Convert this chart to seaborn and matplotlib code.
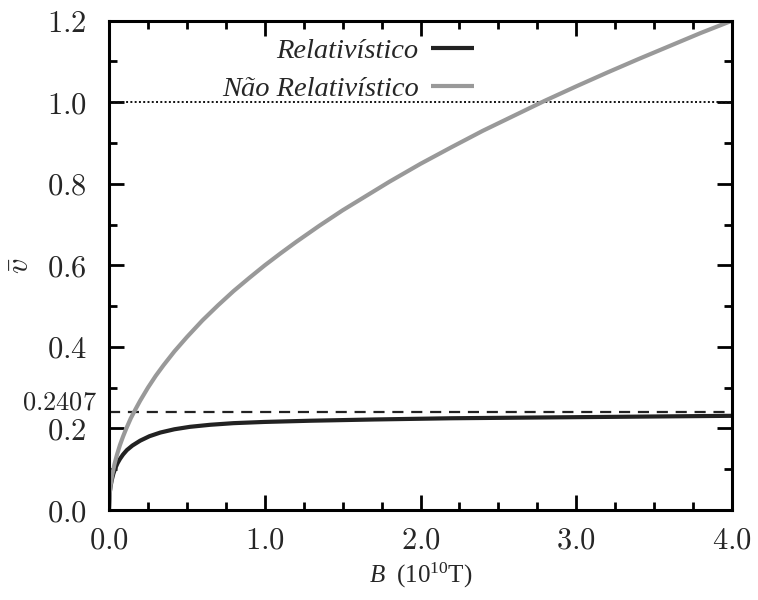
import numpy as np
import pandas as pd
import matplotlib
matplotlib.use("Agg")
import matplotlib.pyplot as plt
import matplotlib.transforms as mtransforms
from matplotlib.ticker import MultipleLocator
import seaborn as sns

# Mean velocity versus magnetic field (B in units of 1e10 T)
b_nonrel = [0.0, 0.005, 0.01, 0.02, 0.035, 0.05, 0.07, 0.09, 0.11, 0.14,
            0.17, 0.2, 0.25, 0.3, 0.35, 0.42, 0.5, 0.6, 0.7, 0.8, 0.9, 1.0,
            1.1, 1.2, 1.35, 1.5, 1.65, 1.8, 2.0, 2.2, 2.4, 2.6, 2.8, 3.0,
            3.2, 3.4, 3.6, 3.8, 4.0]
v_nonrel = [0.0, 0.042, 0.060, 0.085, 0.112, 0.134, 0.159, 0.180, 0.199,
            0.225, 0.247, 0.268, 0.300, 0.329, 0.355, 0.389, 0.424, 0.465,
            0.502, 0.537, 0.569, 0.600, 0.629, 0.657, 0.697, 0.735, 0.770,
            0.805, 0.849, 0.890, 0.930, 0.967, 1.004, 1.039, 1.073, 1.106,
            1.138, 1.170, 1.200]

b_rel = [0.0, 0.004, 0.01, 0.018, 0.028, 0.04, 0.055, 0.07, 0.09, 0.115,
         0.15, 0.2, 0.26, 0.33, 0.42, 0.52, 0.65, 0.8, 1.0, 1.3, 1.7, 2.2,
         2.8, 3.4, 4.0]
v_rel = [0.0, 0.040, 0.058, 0.074, 0.089, 0.102, 0.115, 0.125, 0.136,
         0.147, 0.158, 0.170, 0.181, 0.190, 0.198, 0.204, 0.209, 0.213,
         0.216, 0.219, 0.222, 0.225, 0.227, 0.229, 0.231]

v_limit = 0.2407      # relativistic asymptote
v_light = 1.0         # speed of light

series_names = ["Relativístico", "Não Relativístico"]
series_colors = ["#222222", "#999999"]
x_ticks = [0.0, 1.0, 2.0, 3.0, 4.0]
y_ticks = [0.0, 0.2, 0.4, 0.6, 0.8, 1.0, 1.2]

df = pd.concat([
    pd.DataFrame({"B": b_rel, "v": v_rel, "curve": series_names[0]}),
    pd.DataFrame({"B": b_nonrel, "v": v_nonrel, "curve": series_names[1]}),
], ignore_index=True)

sns.set_theme(style="ticks")
plt.rcParams.update({
    "font.family": ["Liberation Serif", "DejaVu Serif"],
    "mathtext.fontset": "custom",
    "mathtext.rm": "Liberation Serif",
    "mathtext.it": "Liberation Serif:italic",
    "axes.linewidth": 2.2,
    "lines.solid_capstyle": "butt",
    "lines.solid_joinstyle": "round",
})

fig = plt.figure(figsize=(7.58, 6.0), dpi=100)
ax = fig.add_axes([0.1438, 0.15, 0.8219, 0.8155])

sns.lineplot(data=df, x="B", y="v", hue="curve", hue_order=series_names,
             palette=series_colors, linewidth=3.0, ax=ax, sort=False,
             legend=True)

ax.axhline(v_light, color="#111111", lw=1.4, ls=(0, (1, 1.2)), zorder=1)
ax.axhline(v_limit, color="#222222", lw=1.6, ls=(0, (5, 3.5)), zorder=1)

ax.set_xlim(0, 4.0)
ax.set_ylim(0, 1.2)

ax.set_xticks(x_ticks, labels=[f"${t:.1f}$" for t in x_ticks],
              math_fontfamily="cm", fontsize=22)
ax.set_yticks(y_ticks, labels=[f"${t:.1f}$" for t in y_ticks],
              math_fontfamily="cm", fontsize=22)
ax.xaxis.set_minor_locator(MultipleLocator(0.25))
ax.yaxis.set_minor_locator(MultipleLocator(0.1))
ax.tick_params(which="both", direction="in", top=True, right=True,
               width=2.0, color="black")
ax.tick_params(axis="x", which="major", length=11, pad=12)
ax.tick_params(axis="y", which="major", length=11, pad=16)
ax.tick_params(which="minor", length=6)

# label for the asymptotic value on the left axis
trans = mtransforms.blended_transform_factory(ax.transAxes, ax.transData)
ax.text(-0.019, v_limit - 0.006, f"${v_limit}$", transform=trans,
        ha="right", va="bottom", fontsize=19, math_fontfamily="cm")

ax.set_xlabel(r"$B\ \ (10^{10}\mathrm{T})$", fontsize=18, labelpad=4)
ax.set_ylabel(r"$\bar{v}$", fontsize=22, math_fontfamily="cm", labelpad=8)

for s in ax.spines.values():
    s.set_linewidth(2.2)
    s.set_color("black")

handles, labels = ax.get_legend_handles_labels()
leg = ax.legend(handles, labels, loc="upper right",
                bbox_to_anchor=(474 / 758, 1 - 38 / 600),
                bbox_transform=fig.transFigure, frameon=False,
                markerfirst=False, handlelength=1.5, handletextpad=0.45,
                labelspacing=0.42, borderpad=0, borderaxespad=0,
                prop={"family": "Liberation Serif", "style": "italic",
                      "size": 20.5})
for line in leg.get_lines():
    line.set_linewidth(3.0)

fig.savefig("out.png", dpi=100)
